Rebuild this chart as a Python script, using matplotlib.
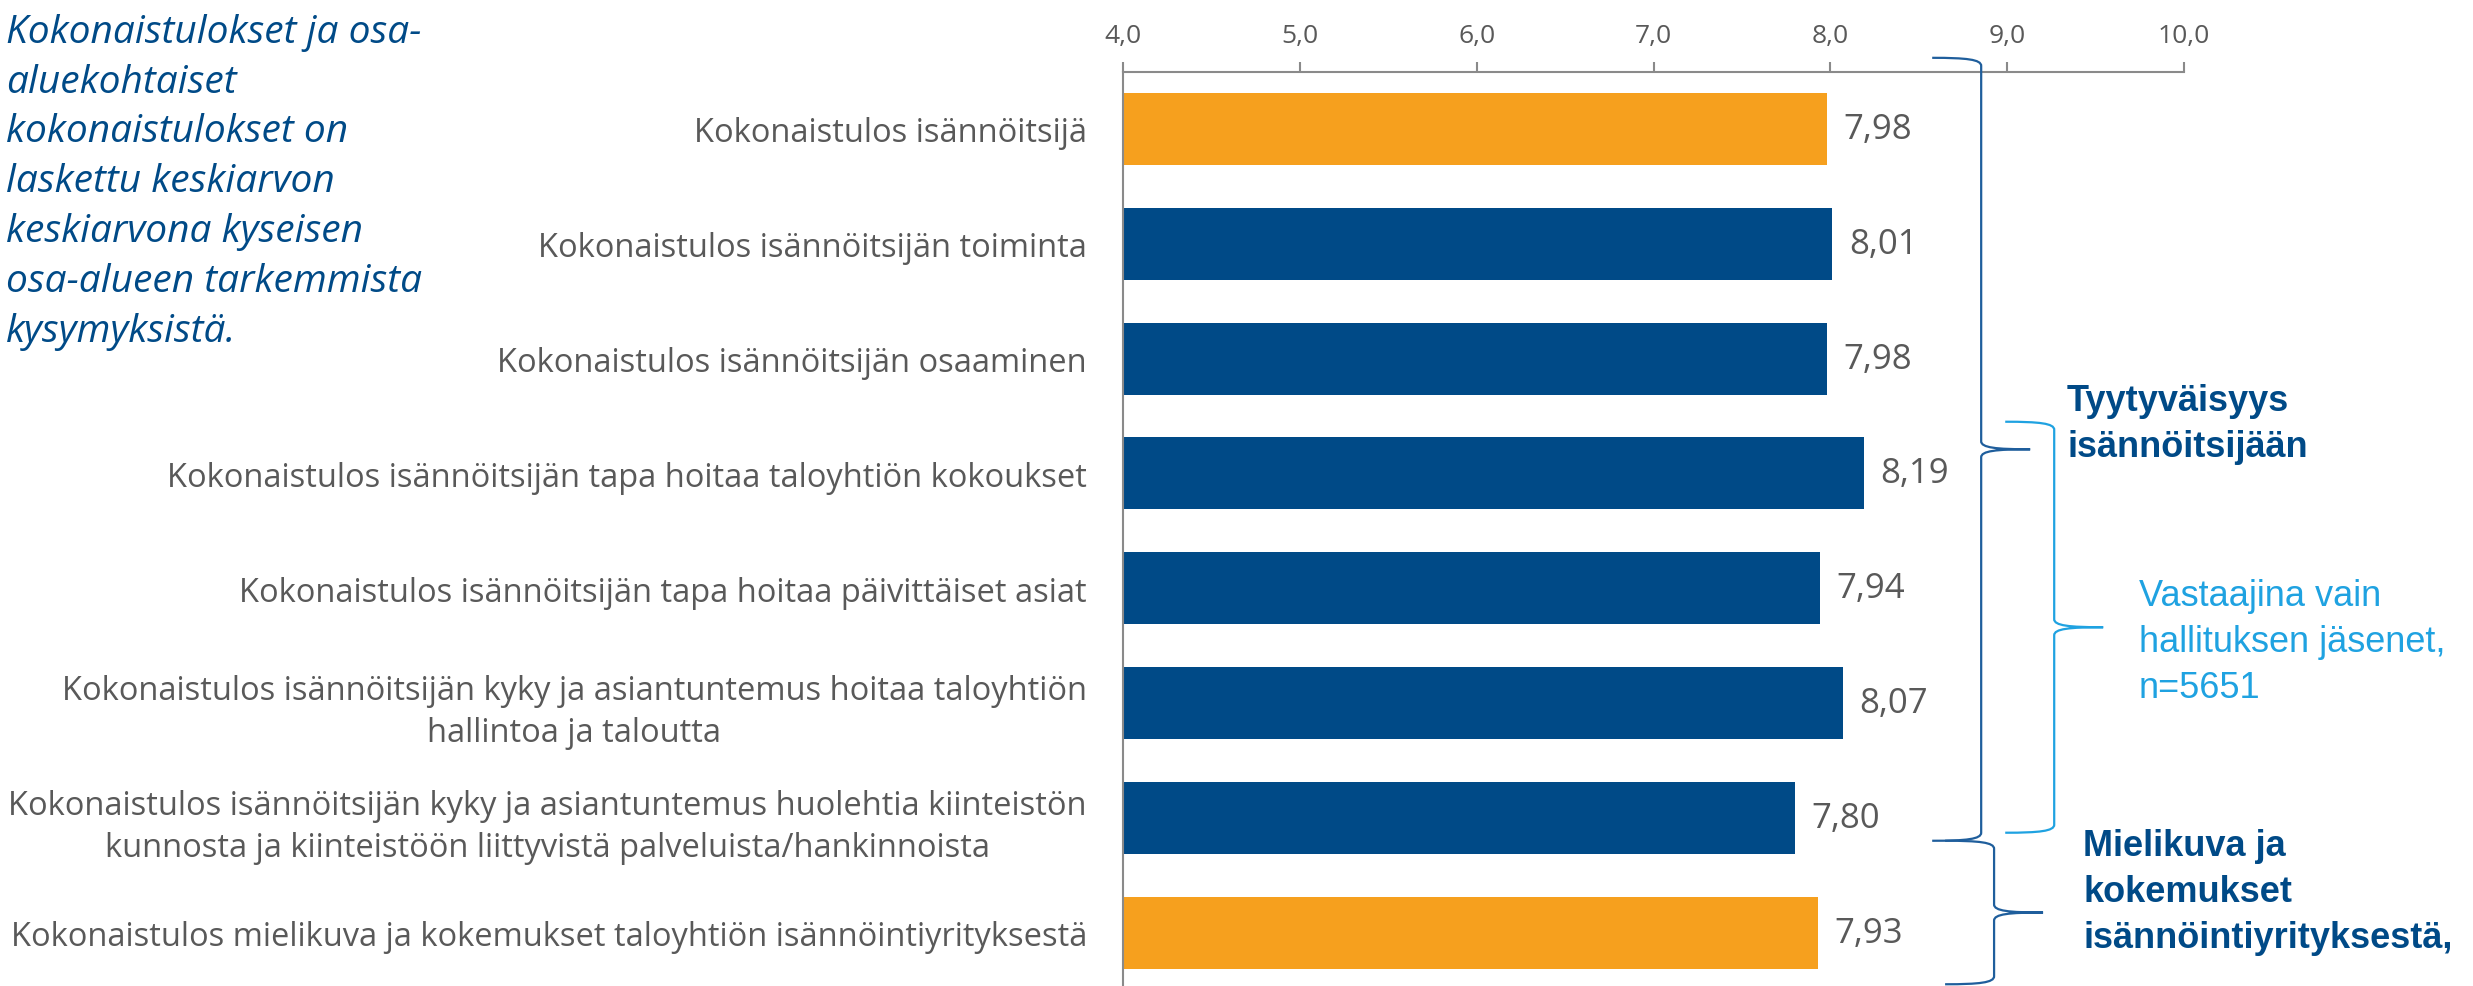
import matplotlib.pyplot as plt
from matplotlib.path import Path
from matplotlib.patches import PathPatch

W, H = 2473, 987

categories = [
    "Kokonaistulos isännöitsijä",
    "Kokonaistulos isännöitsijän toiminta",
    "Kokonaistulos isännöitsijän osaaminen",
    "Kokonaistulos isännöitsijän tapa hoitaa taloyhtiön kokoukset",
    "Kokonaistulos isännöitsijän tapa hoitaa päivittäiset asiat",
    "Kokonaistulos isännöitsijän kyky ja asiantuntemus hoitaa taloyhtiön\nhallintoa ja taloutta",
    "Kokonaistulos isännöitsijän kyky ja asiantuntemus huolehtia kiinteistön\nkunnosta ja kiinteistöön liittyvistä palveluista/hankinnoista",
    "Kokonaistulos mielikuva ja kokemukset taloyhtiön isännöintiyrityksestä",
]
values = [7.98, 8.01, 7.98, 8.19, 7.94, 8.07, 7.80, 7.93]
is_total = [True, False, False, False, False, False, False, True]
xticks = [4, 5, 6, 7, 8, 9, 10]
xtick_labels = ["4,0", "5,0", "6,0", "7,0", "8,0", "9,0", "10,0"]

ORANGE = "#F6A01E"
NAVY = "#004A87"
BRACE = "#1F5E9C"
LIGHT = "#1FA2E1"
GRAY = "#595959"
AXIS = "#8A8A8A"


def px(x, y):
    return x / W, 1 - y / H


def brace(ax, x, y0, y1, w, r, color):
    ym = (y0 + y1) / 2
    verts = [
        (x - w, y0), (x - w * 0.3, y0), (x, y0 + r * 0.2), (x, y0 + r),
        (x, ym - r),
        (x, ym - r * 0.2), (x + w * 0.3, ym), (x + w, ym),
        (x + w * 0.3, ym), (x, ym + r * 0.2), (x, ym + r),
        (x, y1 - r),
        (x, y1 - r * 0.2), (x - w * 0.3, y1), (x - w, y1),
    ]
    codes = [Path.MOVETO] + [Path.CURVE4] * 3 + [Path.LINETO] + [Path.CURVE4] * 6 \
        + [Path.LINETO] + [Path.CURVE4] * 3
    ax.add_patch(PathPatch(Path(verts, codes), fill=False, edgecolor=color,
                           linewidth=1.6, clip_on=False, zorder=5))


fig = plt.figure(figsize=(W / 100, H / 100), dpi=100)
ax = fig.add_axes([1123 / W, -4 / H, 1061 / W, 918.4 / H])

pos = list(range(len(categories)))
colors = [ORANGE if t else NAVY for t in is_total]
ax.barh(pos, [v - 4 for v in values], left=4, height=0.627, color=colors)

for p, v in zip(pos, values):
    ax.annotate(f"{v:.2f}".replace(".", ","), (v, p), xytext=(12, 0),
                textcoords="offset points", va="center", ha="left",
                fontsize=25, color=GRAY, family="Open Sans")

ax.set_xlim(4, 10)
ax.set_ylim(7.5, -0.5)
ax.set_xticks(xticks)
ax.set_xticklabels(xtick_labels, fontsize=19, color=GRAY, family="Open Sans")
ax.set_yticks(pos)
ax.set_yticklabels(categories, fontsize=23.5, color=GRAY, family="Open Sans")
for lab in ax.get_yticklabels():
    lab.set_multialignment("center")
    lab.set_linespacing(1.35)
ax.tick_params(axis="x", top=True, bottom=False, labeltop=True, labelbottom=False,
               length=7, width=1.5, color=AXIS, pad=10)
ax.tick_params(axis="y", length=0, pad=26)
for s in ["right", "bottom"]:
    ax.spines[s].set_visible(False)
for s in ["top", "left"]:
    ax.spines[s].set_color(AXIS)
    ax.spines[s].set_linewidth(1.5)

# braces (data coordinates: x in score units, y in bar positions)
brace(ax, 8.853, -0.62, 6.20, 0.277, 0.07, BRACE)
brace(ax, 8.926, 6.20, 7.45, 0.277, 0.07, BRACE)
brace(ax, 9.266, 2.55, 6.13, 0.277, 0.07, LIGHT)

fig.text(*px(6, 342), "Kokonaistulokset ja osa-\naluekohtaiset\nkokonaistulokset on\n"
         "laskettu keskiarvon\nkeskiarvona kyseisen\nosa-alueen tarkemmista\nkysymyksistä.",
         fontsize=28, style="italic", color=NAVY, family="Open Sans",
         va="baseline", ha="left", linespacing=1.41)
fig.text(*px(2067, 457), "Tyytyväisyys\nisännöitsijään", fontsize=26, weight="bold",
         color=NAVY, family="Liberation Sans", va="baseline", ha="left", linespacing=1.41)
fig.text(*px(2139, 698), "Vastaajina vain\nhallituksen jäsenet,\nn=5651", fontsize=26,
         color=LIGHT, family="Liberation Sans", va="baseline", ha="left", linespacing=1.41)
fig.text(*px(2083, 948), "Mielikuva ja\nkokemukset\nisännöintiyrityksestä,", fontsize=26,
         weight="bold", color=NAVY, family="Liberation Sans", va="baseline", ha="left",
         linespacing=1.41)

fig.savefig("out.png", dpi=100)
